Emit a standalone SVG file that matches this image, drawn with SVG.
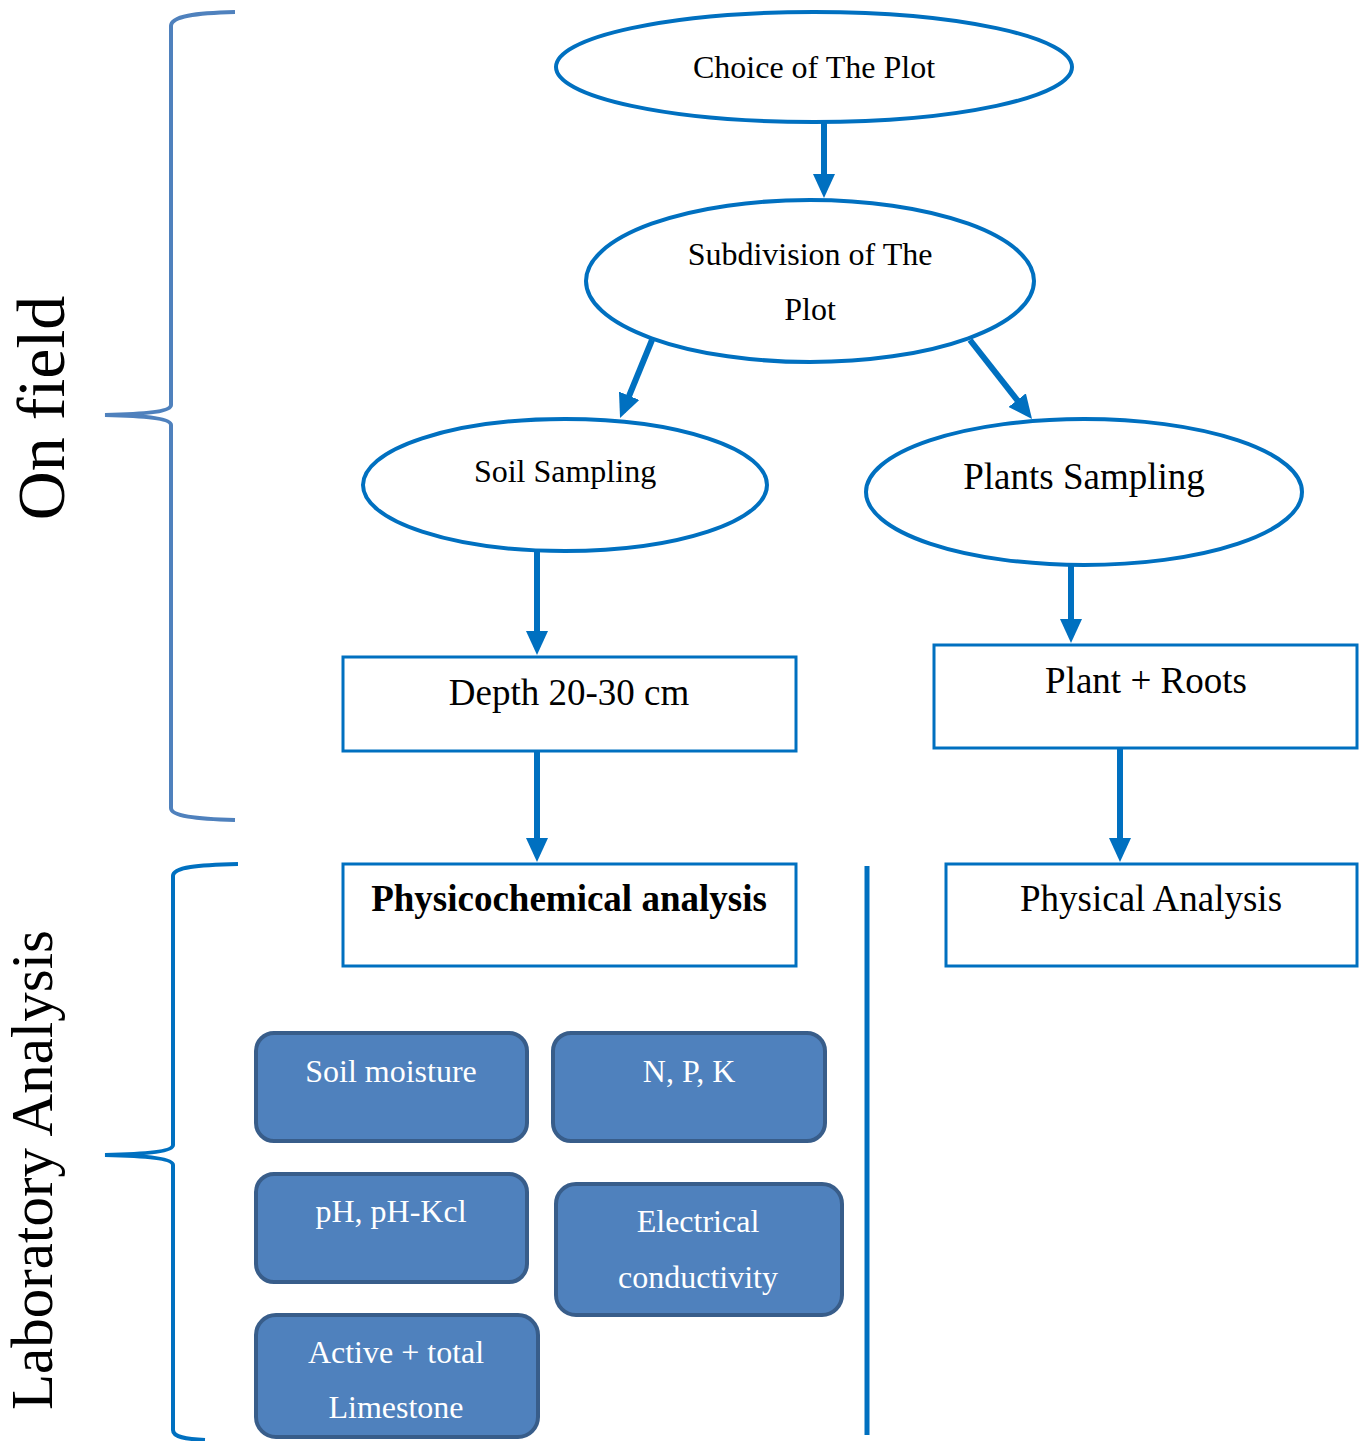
<svg xmlns="http://www.w3.org/2000/svg" width="1364" height="1441" viewBox="0 0 1364 1441">
<style>
.ell{fill:#fff;stroke:#0070C0;stroke-width:4}
.box{fill:#fff;stroke:#0070C0;stroke-width:3}
.rbox{fill:#4F81BD;stroke:#385D8A;stroke-width:4}
.t{font-family:"Liberation Serif","Times New Roman",serif;fill:#000;text-anchor:middle}
.s{font-size:32px}
.b{font-size:37px}
.w{fill:#fff;font-size:32px}
.arr{stroke:#0070C0;stroke-width:6;fill:none;marker-end:url(#ah)}
</style>
<defs>
<marker id="ah" markerUnits="userSpaceOnUse" markerWidth="24" markerHeight="22" refX="17" refY="11" orient="auto">
<path d="M0,0 L24,11 L0,22 Z" fill="#0070C0"/>
</marker>
</defs>
<rect width="1364" height="1441" fill="#fff"/>

<g id="braces" fill="none" stroke-width="4">
<path d="M235,12 C195,13 171,16 171,26 L171,405 C171,411 150,414 105,415 C150,416 171,419 171,425 L171,808 C171,816 195,819 235,820" stroke="#4F81BD"/>
<path d="M238,864 C198,865 173,867 173,876 L173,1145 C173,1151 150,1154 105,1155 C150,1156 173,1159 173,1165 L173,1430 C173,1437 185,1439 205,1440" stroke="#0070C0"/>
</g>
<text class="t" font-size="68" transform="translate(64,408) rotate(-90)">On field</text>
<text class="t" font-size="59" transform="translate(52,1170) rotate(-90)">Laboratory Analysis</text>

<g id="connectors">
<line class="arr" x1="824" y1="123" x2="824" y2="191"/>
<line class="arr" x1="652" y1="340" x2="622.7" y2="411.5"/>
<line class="arr" x1="970" y1="340" x2="1027.7" y2="413.5"/>
<line class="arr" x1="537" y1="551" x2="537" y2="648"/>
<line class="arr" x1="1071" y1="566" x2="1071" y2="636"/>
<line class="arr" x1="537" y1="751" x2="537" y2="855"/>
<line class="arr" x1="1120" y1="748" x2="1120" y2="855"/>
<line x1="867" y1="866" x2="867" y2="1435" stroke="#0070C0" stroke-width="5"/>
</g>

<g id="choice"><ellipse class="ell" cx="814" cy="67" rx="258" ry="55"/><text class="t s" x="814" y="78">Choice of The Plot</text></g>
<g id="subdivision"><ellipse class="ell" cx="810" cy="281" rx="224" ry="81"/><text class="t s" x="810" y="265">Subdivision of The</text><text class="t s" x="810" y="320">Plot</text></g>
<g id="soil"><ellipse class="ell" cx="565" cy="485" rx="202" ry="66"/><text class="t s" x="565" y="482">Soil Sampling</text></g>
<g id="plants"><ellipse class="ell" cx="1084" cy="492" rx="218" ry="73"/><text class="t b" x="1084" y="489">Plants Sampling</text></g>

<g id="depth"><rect class="box" x="343" y="657" width="453" height="94"/><text class="t b" x="569" y="705">Depth 20-30 cm</text></g>
<g id="plantroots"><rect class="box" x="934" y="645" width="423" height="103"/><text class="t b" x="1146" y="693">Plant + Roots</text></g>
<g id="physchem"><rect class="box" x="343" y="864" width="453" height="102"/><text class="t b" x="569" y="911" font-weight="bold">Physicochemical analysis</text></g>
<g id="physical"><rect class="box" x="946" y="864" width="411" height="102"/><text class="t b" x="1151" y="911">Physical Analysis</text></g>

<g id="moisture"><rect class="rbox" x="256" y="1033" width="271" height="108" rx="18"/><text class="t w" x="391" y="1082">Soil moisture</text></g>
<g id="npk"><rect class="rbox" x="553" y="1033" width="272" height="108" rx="18"/><text class="t w" x="689" y="1082">N, P, K</text></g>
<g id="ph"><rect class="rbox" x="256" y="1174" width="271" height="108" rx="18"/><text class="t w" x="391" y="1222">pH, pH-Kcl</text></g>
<g id="ec"><rect class="rbox" x="556" y="1184" width="286" height="131" rx="20"/><text class="t w" x="698" y="1232">Electrical</text><text class="t w" x="698" y="1288">conductivity</text></g>
<g id="limestone"><rect class="rbox" x="256" y="1315" width="282" height="122" rx="20"/><text class="t w" x="396" y="1363">Active + total</text><text class="t w" x="396" y="1418">Limestone</text></g>
</svg>
